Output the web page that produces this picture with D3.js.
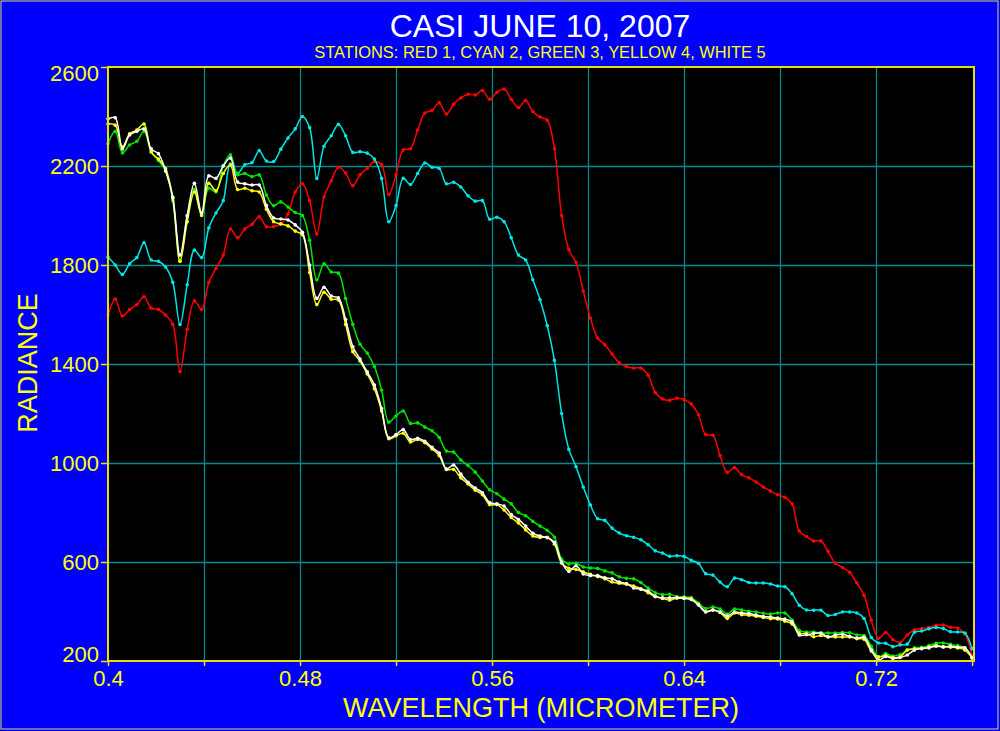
<!DOCTYPE html>
<html>
<head>
<meta charset="utf-8">
<script src="https://cdn.jsdelivr.net/npm/d3@7"></script>
<style>
  html, body { margin: 0; padding: 0; background: #0000ff; }
  svg { display: block; }
</style>
</head>
<body>
<svg id="chart"></svg>
<script>
// band centres (micrometer)
var wavelength = [
  0.400,0.403,0.406,0.409,0.412,0.415,0.418,0.421,0.424,0.427,
  0.430,0.433,0.436,0.439,0.442,0.445,0.448,0.451,0.454,0.457,
  0.460,0.463,0.466,0.469,0.472,0.475,0.478,0.481,0.484,0.487,
  0.490,0.493,0.496,0.499,0.502,0.505,0.508,0.511,0.514,0.517,
  0.520,0.523,0.526,0.529,0.532,0.535,0.538,0.541,0.544,0.547,
  0.550,0.553,0.556,0.559,0.562,0.565,0.568,0.571,0.574,0.577,
  0.580,0.583,0.586,0.589,0.592,0.595,0.598,0.601,0.604,0.607,
  0.610,0.613,0.616,0.619,0.622,0.625,0.628,0.631,0.634,0.637,
  0.640,0.643,0.646,0.649,0.652,0.655,0.658,0.661,0.664,0.667,
  0.670,0.673,0.676,0.679,0.682,0.685,0.688,0.691,0.694,0.697,
  0.700,0.703,0.706,0.709,0.712,0.715,0.718,0.721,0.724,0.727,
  0.730,0.733,0.736,0.739,0.742,0.745,0.748,0.751,0.754,0.757,
  0.760
];

// station 1 (red)
var station1 = [
  1598,1662,1594,1620,1640,1672,1626,1620,1598,1560,
  1370,1540,1655,1620,1730,1787,1840,1945,1910,1945,
  1964,1995,1955,1955,1966,2006,2095,2128,2060,1925,
  2075,2140,2195,2172,2120,2165,2190,2218,2205,2085,
  2165,2265,2270,2345,2414,2425,2455,2410,2450,2475,
  2490,2487,2505,2470,2497,2511,2470,2436,2465,2420,
  2398,2385,2270,2000,1862,1810,1695,1585,1505,1478,
  1440,1405,1390,1384,1384,1355,1285,1259,1253,1262,
  1256,1238,1195,1115,1112,1030,962,982,953,940,
  923,903,887,872,861,835,725,703,685,685,
  643,595,578,558,515,465,365,292,315,287,
  275,305,326,331,335,344,345,336,333,310,
  220
];

// station 2 (cyan)
var station2 = [
  1832,1800,1762,1805,1830,1890,1820,1815,1792,1730,
  1560,1720,1860,1830,1950,2010,2060,2208,2170,2205,
  2214,2262,2220,2218,2268,2313,2350,2400,2355,2150,
  2280,2322,2368,2322,2255,2258,2252,2228,2150,1975,
  2040,2150,2125,2170,2212,2195,2190,2128,2134,2115,
  2080,2058,2060,1985,1993,1975,1910,1840,1820,1740,
  1660,1555,1415,1200,1055,985,903,830,775,768,
  737,717,706,700,690,670,645,636,623,625,
  622,607,595,553,547,519,500,535,528,517,
  515,515,511,503,500,472,425,406,405,405,
  384,388,398,398,394,372,295,273,272,258,
  265,268,316,321,330,335,331,318,317,313,
  250
];

// station 3 (green)
var station3 = [
  2290,2340,2253,2285,2300,2340,2257,2222,2180,2060,
  1815,1995,2105,2010,2110,2095,2200,2245,2165,2170,
  2157,2164,2083,2040,2055,2034,2012,2000,1900,1740,
  1805,1772,1767,1665,1560,1480,1444,1390,1295,1165,
  1190,1210,1160,1162,1145,1130,1103,1048,1044,1012,
  990,963,927,892,876,854,835,800,787,764,
  745,728,700,612,592,595,580,576,574,564,
  556,540,534,532,517,495,476,468,470,460,
  459,456,434,412,418,410,390,410,406,401,
  398,393,390,394,394,365,324,317,317,314,
  313,313,315,314,305,303,260,217,230,220,
  226,244,253,255,262,272,273,267,262,253,
  216
];

// station 4 (yellow)
var station4 = [
  2370,2365,2277,2330,2345,2370,2257,2228,2190,2070,
  1815,1975,2095,2000,2130,2100,2170,2204,2105,2110,
  2100,2095,2025,1975,1966,1958,1937,1922,1770,1640,
  1690,1662,1659,1560,1450,1412,1360,1300,1210,1098,
  1110,1120,1085,1095,1082,1057,1030,974,974,940,
  915,890,872,832,832,810,780,758,730,705,
  699,700,672,595,575,570,560,550,541,532,
  519,514,510,503,492,476,460,453,446,455,
  455,451,428,400,406,396,372,394,387,385,
  381,376,371,370,361,350,313,310,298,303,
  297,297,297,297,290,288,240,216,222,214,
  216,244,248,251,256,263,257,256,253,244,
  212
];

// station 5 (white)
var station5 = [
  2390,2395,2269,2325,2340,2350,2269,2250,2180,2075,
  1840,2000,2130,2010,2160,2150,2200,2232,2135,2128,
  2123,2123,2040,1990,1986,1982,1962,1932,1800,1665,
  1710,1675,1667,1580,1470,1420,1368,1315,1220,1102,
  1115,1135,1095,1100,1088,1063,1040,976,992,955,
  922,899,880,840,835,826,792,772,745,716,
  705,698,680,600,562,585,552,545,545,536,
  532,519,513,495,490,483,462,455,455,455,
  453,448,426,398,406,398,382,398,394,392,
  386,380,378,374,369,358,305,306,311,312,
  298,305,308,300,293,296,245,204,218,210,
  214,224,244,250,253,260,257,260,255,253,
  212
];

var stationNames = ["RED 1", "CYAN 2", "GREEN 3", "YELLOW 4", "WHITE 5"];
var stationColors = ["#ff0000", "#00e6e6", "#00e600", "#ffff00", "#ffffff"];
var xTickValues = [0.40, 0.44, 0.48, 0.52, 0.56, 0.60, 0.64, 0.68, 0.72, 0.76];
var xLabelValues = [0.40, 0.48, 0.56, 0.64, 0.72];
var yTickValues = [200, 600, 1000, 1400, 1800, 2200, 2600];

function drawChart() {
    var width = 1000,
        height = 731;
    var plotLeft = 108, plotRight = 974, plotTop = 67, plotBottom = 661;
    var font = "'Liberation Sans', Arial, sans-serif";

    var svg = d3.select("#chart")
        .attr("width", width)
        .attr("height", height)
        .style("font-family", font);

    svg.append("rect")
        .attr("width", width).attr("height", height)
        .attr("fill", "#0000ff");
    svg.append("rect")
        .attr("x", 1).attr("y", 1)
        .attr("width", 997).attr("height", 728)
        .attr("fill", "none")
        .attr("stroke", "#d8d860")
        .attr("stroke-width", 1);

    var x = d3.scaleLinear().domain([0.4, 0.7608]).range([plotLeft, plotRight]);
    var y = d3.scaleLinear().domain([200, 2600]).range([plotBottom, plotTop]);

    // plot background
    svg.append("rect")
        .attr("x", plotLeft).attr("y", plotTop)
        .attr("width", plotRight - plotLeft).attr("height", plotBottom - plotTop)
        .attr("fill", "#000000");

    // grid
    var grid = svg.append("g").attr("class", "grid");
    grid.selectAll("line.vx")
        .data(xTickValues.filter(function(d){ return d > 0.41 && d < 0.75; }))
        .enter().append("line")
        .attr("x1", function(d){ return Math.round(x(d)) + 0.5; })
        .attr("x2", function(d){ return Math.round(x(d)) + 0.5; })
        .attr("y1", plotTop).attr("y2", plotBottom)
        .attr("stroke", "#008c8c").attr("stroke-width", 1.3);
    grid.selectAll("line.hy")
        .data(yTickValues.filter(function(d){ return d > 200 && d < 2600; }))
        .enter().append("line")
        .attr("y1", function(d){ return Math.round(y(d)) + 0.5; })
        .attr("y2", function(d){ return Math.round(y(d)) + 0.5; })
        .attr("x1", plotLeft).attr("x2", plotRight)
        .attr("stroke", "#008c8c").attr("stroke-width", 1.3);

    // series
    var line = d3.line()
        .x(function(d){ return x(d[0]); })
        .y(function(d){ return y(d[1]); })
        .curve(d3.curveCatmullRom.alpha(0.5));

    var allSeries = [station1, station2, station3, station4, station5];
    var plot = svg.append("g");

    allSeries.forEach(function(vals, k) {
        var pts = wavelength.map(function(w, i){ return [w, vals[i]]; });
        var g = plot.append("g").attr("class", "station");
        g.append("path")
            .datum(pts)
            .attr("d", line)
            .attr("fill", "none")
            .attr("stroke", stationColors[k])
            .attr("stroke-width", 1.5);
        g.selectAll("circle")
            .data(pts)
            .enter().append("circle")
            .attr("cx", function(d){ return x(d[0]); })
            .attr("cy", function(d){ return y(d[1]); })
            .attr("r", 1.8)
            .attr("fill", stationColors[k]);
    });

    // frame
    var axisColor = "#e8e000";
    svg.append("rect")
        .attr("x", plotLeft).attr("y", plotTop)
        .attr("width", plotRight - plotLeft).attr("height", plotBottom - plotTop)
        .attr("fill", "none")
        .attr("stroke", axisColor)
        .attr("stroke-width", 2);

    // x axis
    var xAxis = d3.axisBottom(x)
        .tickValues(xTickValues)
        .tickSize(5)
        .tickFormat(function(d){
            return xLabelValues.indexOf(d) >= 0 ? String(+d.toFixed(2)) : "";
        });
    var gx = svg.append("g")
        .attr("transform", "translate(0," + plotBottom + ")")
        .call(xAxis);
    gx.select(".domain").remove();
    gx.selectAll(".tick line").attr("stroke", axisColor).attr("stroke-width", 1.5);
    gx.selectAll(".tick text")
        .attr("fill", "#ffff00")
        .attr("font-size", 22)
        .attr("font-family", font)
        .attr("dy", 0)
        .attr("y", 25);

    // y axis
    var yAxis = d3.axisLeft(y)
        .tickValues(yTickValues)
        .tickSize(7)
        .tickPadding(2)
        .tickFormat(d3.format("d"));
    var gy = svg.append("g")
        .attr("transform", "translate(" + plotLeft + ",0)")
        .call(yAxis);
    gy.select(".domain").remove();
    gy.selectAll(".tick line").attr("stroke", axisColor).attr("stroke-width", 1.5);
    gy.selectAll(".tick text")
        .attr("fill", "#ffff00")
        .attr("font-size", 22)
        .attr("font-family", font)
        .attr("dy", function(d){
            if (d === 2600) return "0.62em";
            if (d === 200) return "0em";
            return "0.34em";
        });

    // titles
    svg.append("text")
        .attr("x", 540).attr("y", 37)
        .attr("text-anchor", "middle")
        .attr("fill", "#ffffff")
        .attr("font-size", 32)
        .text("CASI JUNE 10, 2007");

    svg.append("text")
        .attr("x", 540).attr("y", 58)
        .attr("text-anchor", "middle")
        .attr("fill", "#ffff00")
        .attr("font-size", 16.4)
        .text("STATIONS: " + stationNames.join(", "));

    svg.append("text")
        .attr("x", 541).attr("y", 717)
        .attr("text-anchor", "middle")
        .attr("fill", "#ffff00")
        .attr("font-size", 27)
        .text("WAVELENGTH (MICROMETER)");

    svg.append("text")
        .attr("transform", "translate(37,363) rotate(-90)")
        .attr("text-anchor", "middle")
        .attr("fill", "#ffff00")
        .attr("font-size", 27)
        .text("RADIANCE");
}

drawChart();
</script>
</body>
</html>
